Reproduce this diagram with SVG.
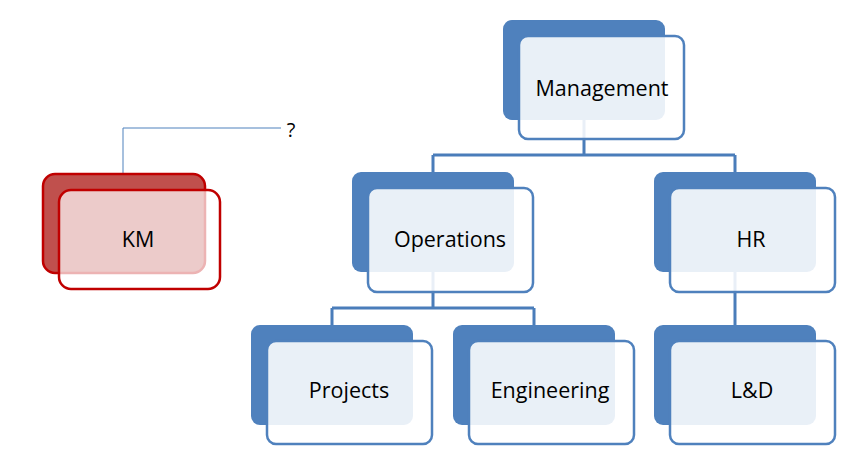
<svg xmlns="http://www.w3.org/2000/svg" width="856" height="460" viewBox="0 0 856 460">
<defs>
<style>
.bk{fill:#4f81bd;}
.fr{fill:#ffffff;fill-opacity:0.88;stroke:#4f81bd;stroke-width:2.5;}
.kbk{fill:#c0504d;stroke:#c00000;stroke-width:2.5;}
.kfr{fill:#ffffff;fill-opacity:0.7;stroke:#c00000;stroke-width:2.5;}
.lbl{font-family:"Open Sans","Liberation Sans",sans-serif;font-size:21.5px;fill:#000000;text-anchor:middle;}
.con{fill:none;stroke:#4a7dba;stroke-width:3;}
.call{fill:none;stroke:#4f81bd;stroke-width:1;}
</style>
</defs>
<rect width="856" height="460" fill="#ffffff"/>
<g id="connectors">
<path class="con" d="M584,118 V155 M433,155 H735 M433,155 V174 M735,155 V174"/>
<path class="con" d="M433,270 V308 M332,308 H534 M332,308 V327 M534,308 V327"/>
<path class="con" d="M735,270 V327"/>
<polyline class="call" points="123,175 123,128 281,128"/>
</g>
<g id="node-management">
<rect class="bk" x="503" y="20" width="162" height="100" rx="9"/>
<rect class="fr" x="519" y="36" width="165" height="103" rx="9"/>
<text class="lbl" x="602" y="96">Management</text>
</g>
<g id="node-operations">
<rect class="bk" x="352" y="172" width="162" height="100" rx="9"/>
<rect class="fr" x="368" y="188" width="165" height="104" rx="9"/>
<text class="lbl" x="450" y="247">Operations</text>
</g>
<g id="node-hr">
<rect class="bk" x="654" y="172" width="162" height="100" rx="9"/>
<rect class="fr" x="670" y="188" width="165" height="104" rx="9"/>
<text class="lbl" x="751" y="247">HR</text>
</g>
<g id="node-projects">
<rect class="bk" x="251" y="325" width="162" height="100" rx="9"/>
<rect class="fr" x="267" y="341" width="165" height="103" rx="9"/>
<text class="lbl" x="349" y="398">Projects</text>
</g>
<g id="node-engineering">
<rect class="bk" x="453" y="325" width="162" height="100" rx="9"/>
<rect class="fr" x="469" y="341" width="165" height="103" rx="9"/>
<text class="lbl" x="550" y="398">Engineering</text>
</g>
<g id="node-ld">
<rect class="bk" x="654" y="325" width="162" height="100" rx="9"/>
<rect class="fr" x="670" y="341" width="165" height="103" rx="9"/>
<text class="lbl" x="752" y="398">L&amp;D</text>
</g>
<g id="node-km">
<rect class="kbk" x="43" y="174" width="162" height="99" rx="12"/>
<rect class="kfr" x="59" y="190" width="161" height="99" rx="12"/>
<text class="lbl" x="138" y="247">KM</text>
</g>
<g id="label-question">
<text class="lbl" x="291" y="137" style="font-size:20px">?</text>
</g>
</svg>
